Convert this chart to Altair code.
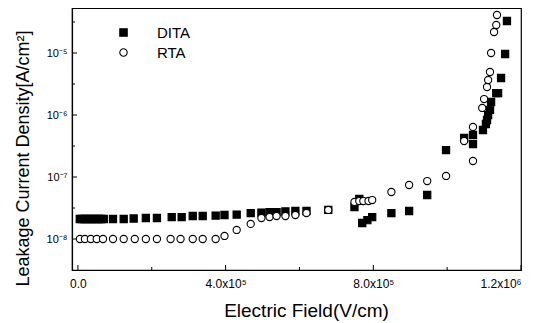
import altair as alt
import pandas as pd

# ---- data ----
dita_field = [5000, 11500, 18000, 24500, 31000, 37500, 44000, 50500, 57000, 63500, 70000,
              95000, 124000, 151000, 184000, 214000, 254000, 281000, 311000, 338000, 373000,
              397000, 430000, 468000, 497000, 519000, 538000, 562000, 589000, 619000, 678000,
              749000, 762000, 770000, 784000, 797000, 849000, 897000, 946000, 997000, 1046000,
              1070000, 1070000, 1097000, 1105000, 1108000, 1111000, 1116000, 1119000, 1133000, 1138000,
              1146000, 1157000, 1162000]
dita_current = [2.10e-8] * 11 + [
              2.10e-8, 2.10e-8, 2.14e-8, 2.18e-8, 2.18e-8, 2.26e-8, 2.26e-8, 2.35e-8, 2.35e-8, 2.39e-8,
              2.44e-8, 2.48e-8, 2.62e-8, 2.67e-8, 2.72e-8, 2.72e-8, 2.78e-8, 2.83e-8, 2.83e-8, 2.94e-8,
              3.28e-8, 4.42e-8, 1.81e-8, 2.02e-8, 2.26e-8, 2.62e-8, 2.83e-8, 5.13e-8, 2.72e-7, 4.26e-7,
              4.76e-7, 3.40e-7, 5.73e-7, 7.16e-7, 8.30e-7, 1.0e-6, 1.21e-6, 1.62e-6, 2.26e-6, 2.26e-6,
              3.95e-6, 9.64e-6, 3.28e-5]

rta_field = [5400, 19000, 35000, 51000, 68000, 95000, 124000, 154000, 184000, 214000,
             251000, 278000, 311000, 338000, 373000,
             397000, 430000, 468000, 497000, 519000, 538000, 562000, 589000, 619000, 678000,
             749000, 762000, 773000, 787000, 797000, 849000, 897000, 946000, 997000, 1046000,
             1070000, 1070000, 1095000, 1100000, 1108000, 1111000, 1116000, 1119000, 1127000, 1133000, 1135000]
rta_current = [1.0e-8] * 15 + [
             1.12e-8, 1.40e-8, 1.75e-8, 2.18e-8, 2.26e-8, 2.35e-8, 2.35e-8, 2.44e-8, 2.62e-8, 2.94e-8,
             3.95e-8, 4.10e-8, 4.10e-8, 4.10e-8, 4.25e-8, 5.73e-8, 7.43e-8, 8.61e-8, 1.04e-7, 3.81e-7,
             1.81e-7, 6.40e-7, 1.30e-6, 1.81e-6, 2.83e-6, 3.67e-6, 4.94e-6, 1.0e-5, 2.18e-5, 2.83e-5, 4.10e-5]

series_names = ["DITA", "RTA"]

x_tick_values = [0, 400000, 800000, 1200000]
x_tick_labels = ["0.0", "4.0x10\u2075", "8.0x10\u2075", "1.2x10\u2076"]
x_minor_ticks = [200000, 600000, 1000000]
y_tick_values = [1e-8, 1e-7, 1e-6, 1e-5]
y_tick_labels = ["10\u207b\u2078", "10\u207b\u2077", "10\u207b\u2076", "10\u207b\u2075"]
y_minor_ticks = [10 ** -7.5, 10 ** -6.5, 10 ** -5.5, 10 ** -4.5]

FONT = "Liberation Sans"
W, H = 449, 262

df = pd.DataFrame({
    "field": dita_field + rta_field,
    "current": dita_current + rta_current,
    "series": [series_names[0]] * len(dita_field) + [series_names[1]] * len(rta_field),
})


def label_expr(values, labels):
    expr = "''"
    for v, l in zip(values, labels):
        expr = f"abs(datum.value - {v}) < {abs(v) * 0.01 + 1e-12} ? '{l}' : ({expr})"
    return expr


xscale = alt.Scale(domain=[-16000, 1200000], nice=False, zero=False)
yscale = alt.Scale(type="log", domain=[10 ** -8.5, 10 ** -4.274], nice=False)

x_axis = alt.Axis(title="Electric Field(V/cm)", values=x_tick_values,
                  labelExpr=label_expr(x_tick_values, x_tick_labels),
                  tickSize=0, labelPadding=8, grid=False,
                  labelFontSize=12, titleFontSize=19, titleFontWeight="normal",
                  titleX=234, titleY=46, titleBaseline="alphabetic", titleAlign="center",
                  domainColor="black", labelColor="black",
                  titleColor="black", labelFont=FONT, titleFont=FONT)
y_axis = alt.Axis(title="Leakage Current Density[A/cm\u00b2]", values=y_tick_values,
                  labelExpr=label_expr(y_tick_values, y_tick_labels),
                  tickSize=0, labelPadding=5, grid=False,
                  labelFontSize=11, titleFontSize=18, titleFontWeight="normal",
                  titleX=-49, titleY=150, titleAngle=270, titleBaseline="middle", titleAlign="center",
                  domainColor="black", labelColor="black",
                  titleColor="black", labelFont=FONT, titleFont=FONT)

legend = alt.Legend(title=None, orient="none", legendX=44, legendY=17,
                    labelFontSize=15, labelFont=FONT, labelColor="black",
                    labelOffset=26, rowPadding=4, symbolSize=55,
                    symbolStrokeWidth=1.1, padding=0)

points = alt.Chart(df).mark_point(filled=True, strokeWidth=1.1, opacity=1).encode(
    x=alt.X("field:Q", scale=xscale, axis=x_axis),
    y=alt.Y("current:Q", scale=yscale, axis=y_axis),
    shape=alt.Shape("series:N", scale=alt.Scale(domain=series_names, range=["square", "circle"]),
                    legend=legend),
    fill=alt.Fill("series:N", scale=alt.Scale(domain=series_names, range=["black", "white"]),
                  legend=legend),
    stroke=alt.Stroke("series:N", scale=alt.Scale(domain=series_names, range=["black", "black"]),
                      legend=legend),
    size=alt.value(52),
    order=alt.Order("series:N"),
)

xmaj = alt.Chart(pd.DataFrame({"field": x_tick_values})).mark_rule(color="black", strokeWidth=1).encode(
    x=alt.X("field:Q", scale=xscale, axis=x_axis), y=alt.value(H), y2=alt.value(H - 5))
xmin = alt.Chart(pd.DataFrame({"field": x_minor_ticks})).mark_rule(color="black", strokeWidth=1).encode(
    x=alt.X("field:Q", scale=xscale, axis=x_axis), y=alt.value(H), y2=alt.value(H - 3))
ymaj = alt.Chart(pd.DataFrame({"current": y_tick_values})).mark_rule(color="black", strokeWidth=1).encode(
    y=alt.Y("current:Q", scale=yscale, axis=y_axis), x=alt.value(0), x2=alt.value(5))
ymin = alt.Chart(pd.DataFrame({"current": y_minor_ticks})).mark_rule(color="black", strokeWidth=1).encode(
    y=alt.Y("current:Q", scale=yscale, axis=y_axis), x=alt.value(0), x2=alt.value(3))

chart = alt.layer(points, xmaj, xmin, ymaj, ymin).properties(
    width=W, height=H,
    autosize=alt.AutoSizeParams(type="none"),
    padding={"left": 64, "top": 0, "right": 21, "bottom": 53},
    background="white",
).configure_view(stroke="black", strokeWidth=1.2).configure_axis(domainWidth=1.2)

chart.save("out.html", embed_options={"renderer": "svg", "actions": False})
